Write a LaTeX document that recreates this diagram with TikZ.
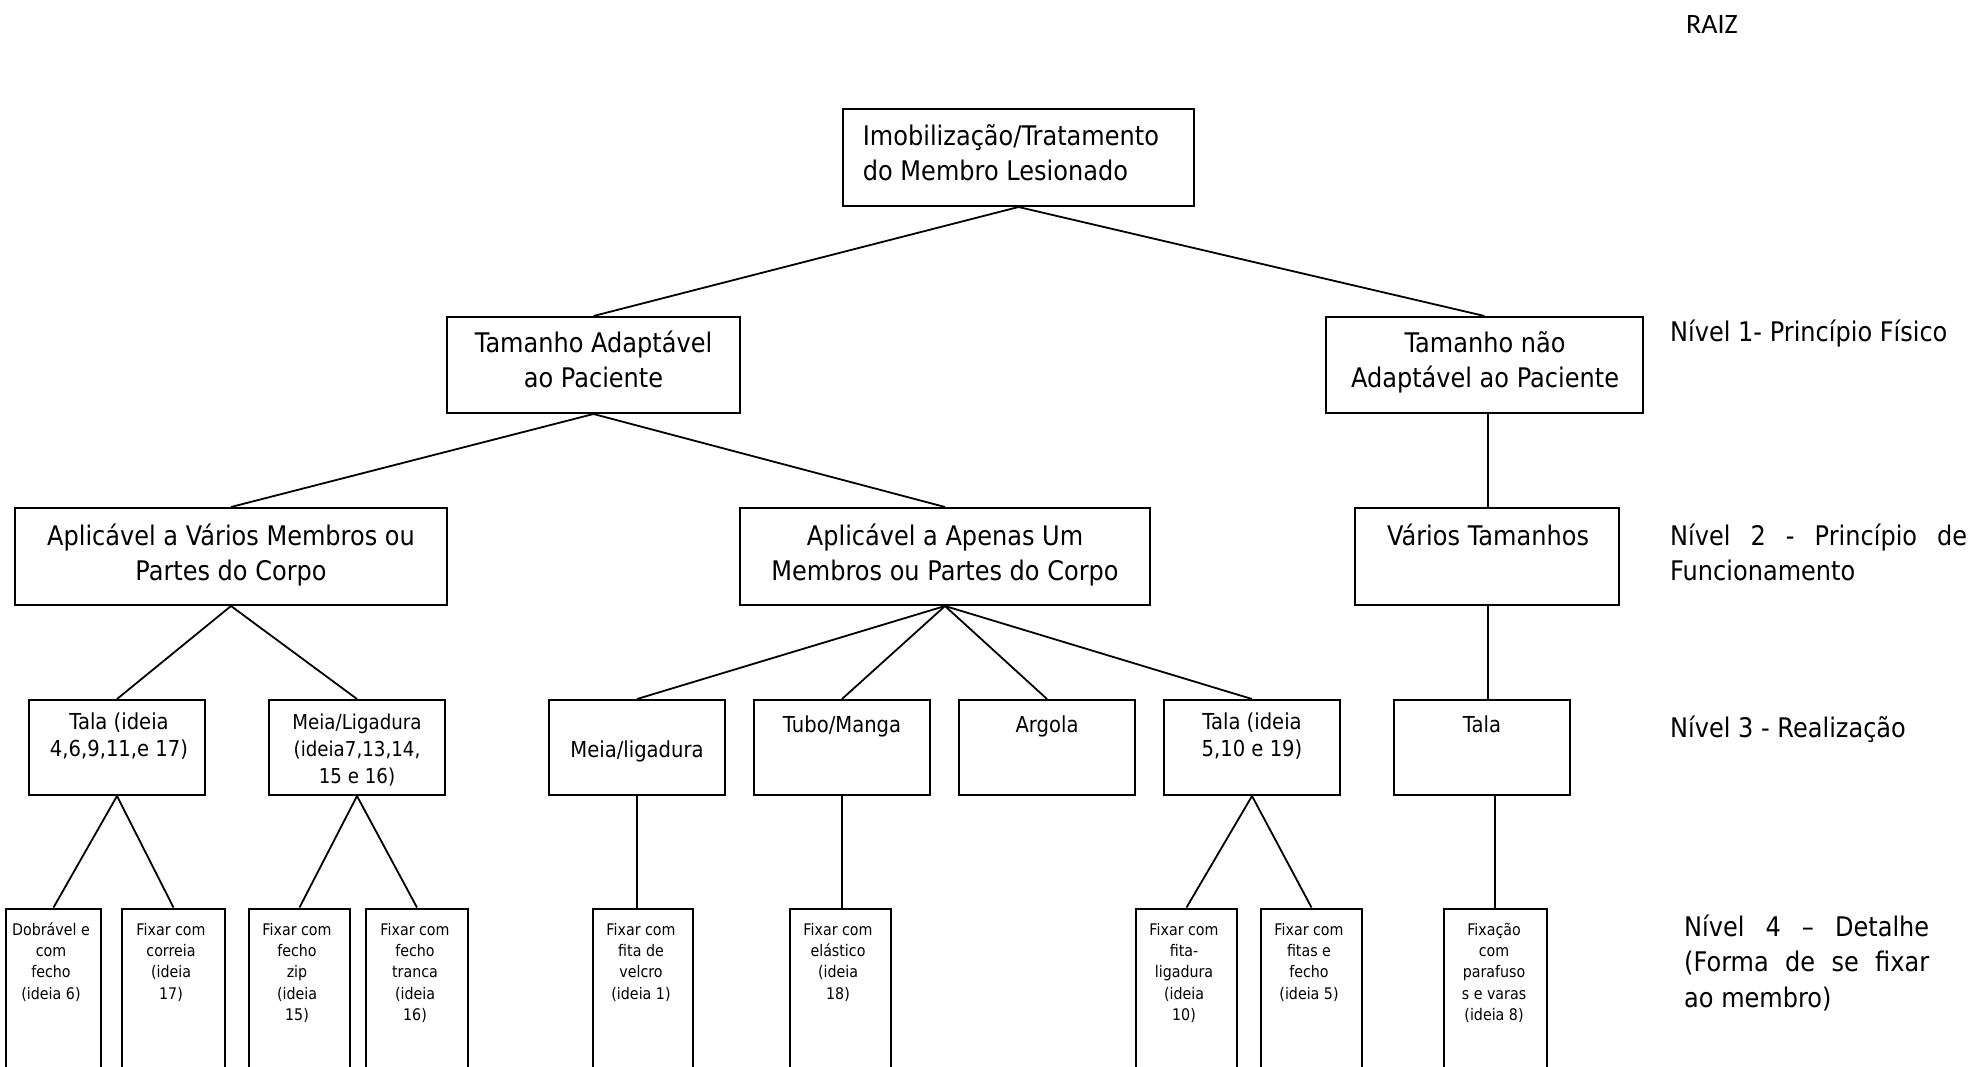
\documentclass[tikz,border=0pt]{standalone}
\usepackage{fontspec}
\setmainfont{DejaVu Sans}[FakeStretch=0.89]
\newfontfamily\raizfont{Carlito}
\begin{document}
% note: for multi-line nodes, anchor=base sits on the last line's baseline
\begin{tikzpicture}[x=1pt,y=-1pt,
  box/.style={draw, line width=2pt, inner sep=0pt, minimum height=#1},
  box/.default=97,
  link/.style={line width=1.8pt},
  big/.style={inner sep=0pt, align=center, font=\fontsize{27}{35}\selectfont},
  mid/.style={inner sep=0pt, align=center, font=\fontsize{22}{27.5}\selectfont},
  midsmall/.style={inner sep=0pt, align=center, font=\fontsize{20.5}{27}\selectfont},
  tiny/.style={inner sep=0pt, align=center, font=\fontsize{16}{21.4}\selectfont},
  side/.style={inner sep=0pt, anchor=base west, font=\fontsize{27}{35}\selectfont}]
\useasboundingbox (0,0) rectangle (1973,1066);

% root
\node[box, minimum width=351] (R) at (1018.5,157.5) {};
\node[big, align=left, anchor=base west] (Rt) at (862.7,180) {Imobilização/Tratamento\\do Membro Lesionado};

% level 1
\node[box=96, minimum width=293] (A) at (593.5,365) {};
\node[big, anchor=base] (At) at (593.5,387.7) {Tamanho Adaptável\\ao Paciente};
\node[box=96, minimum width=317] (B) at (1484.5,365) {};
\node[big, anchor=base] (Bt) at (1485,387.7) {Tamanho não\\Adaptável ao Paciente};

% level 2
\node[box, minimum width=432] (C) at (231,556.5) {};
\node[big, anchor=base] (Ct) at (231,580.2) {Aplicável a Vários Membros ou\\Partes do Corpo};
\node[box, minimum width=410] (D) at (945,556.5) {};
\node[big, anchor=base] (Dt) at (945,580.2) {Aplicável a Apenas Um\\Membros ou Partes do Corpo};
\node[box, minimum width=264] (E) at (1487,556.5) {};
\node[big, anchor=base] (Et) at (1488,545.2) {Vários Tamanhos};

% level 3
\foreach \n/\x in {1/117,2/357,3/637,4/842,5/1047,6/1252,7/1482}
  \node[box=95, minimum width=176] (n\n) at (\x,747.5) {};
\node[mid, anchor=base] (n1t) at (119,756.5) {Tala (ideia\\4,6,9,11,e 17)};
\node[midsmall, anchor=base] (n2t) at (357,783) {Meia/Ligadura\\(ideia7,13,14,\\15 e 16)};
\node[mid, anchor=base] (n3t) at (637,757) {Meia/ligadura};
\node[mid, anchor=base] (n4t) at (842,732) {Tubo/Manga};
\node[mid, anchor=base] (n5t) at (1047,732) {Argola};
\node[mid, anchor=base] (n6t) at (1252,756.5) {Tala (ideia\\5,10 e 19)};
\node[mid, anchor=base] (n7t) at (1482,732) {Tala};

% level 4 (boxes run past the lower edge)
\foreach \n/\x/\w in {1/53.5/95,2/173.5/103,3/299.5/101,4/417/102,5/643/100,6/840.5/101,7/1186.5/101,8/1311.5/101,9/1495/103}
  \node[box=171.5, minimum width=\w] (f\n) at (\x,994.25) {};
\node[tiny, anchor=base] (f1t) at (51,999.2) {Dobrável e\\com\\fecho\\(ideia 6)};
\node[tiny, anchor=base] (f2t) at (171,999.2) {Fixar com\\correia\\(ideia\\17)};
\node[tiny, anchor=base] (f3t) at (297,1020.6) {Fixar com\\fecho\\zip\\(ideia\\15)};
\node[tiny, anchor=base] (f4t) at (415,1020.6) {Fixar com\\fecho\\tranca\\(ideia\\16)};
\node[tiny, anchor=base] (f5t) at (641,999.2) {Fixar com\\fita de\\velcro\\(ideia 1)};
\node[tiny, anchor=base] (f6t) at (838,999.2) {Fixar com\\elástico\\(ideia\\18)};
\node[tiny, anchor=base] (f7t) at (1184,1020.6) {Fixar com\\fita-\\ligadura\\(ideia\\10)};
\node[tiny, anchor=base] (f8t) at (1309,999.2) {Fixar com\\fitas e\\fecho\\(ideia 5)};
\node[tiny, anchor=base] (f9t) at (1494,1020.6) {Fixação\\com\\parafuso\\s e varas\\(ideia 8)};

% vertical drop shared by the right-hand column
\coordinate (vx) at (1488,0);

% connectors
\draw[link] (R.south) -- (A.north);
\draw[link] (R.south) -- (B.north);
\draw[link] (A.south) -- (C.north);
\draw[link] (A.south) -- (D.north);
\draw[link] (vx |- B.south) -- (vx |- E.north);
\draw[link] (C.south) -- (n1.north);
\draw[link] (C.south) -- (n2.north);
\foreach \n in {3,4,5,6} \draw[link] (D.south) -- (n\n.north);
\draw[link] (vx |- E.south) -- (vx |- n7.north);
\draw[link] (n1.south) -- (f1.north);
\draw[link] (n1.south) -- (f2.north);
\draw[link] (n2.south) -- (f3.north);
\draw[link] (n2.south) -- (f4.north);
\draw[link] (n3.south) -- (n3.south |- f5.north);
\draw[link] (n4.south) -- (n4.south |- f6.north);
\draw[link] (n6.south) -- (f7.north);
\draw[link] (n6.south) -- (f8.north);
\draw[link] (f9.north |- n7.south) -- (f9.north);

% level captions
\node[inner sep=0pt, anchor=base west, font=\raizfont\fontsize{28}{34}\selectfont] (raiz) at (1686,33) {RAIZ};
\node[side] (lv1) at (1670,341) {Nível 1- Princípio Físico};
\node[side] (lv2a) at (1670,545) {\makebox[297pt][s]{Nível 2 - Princípio de}};
\node[side] (lv2b) at (1670,580) {Funcionamento};
\node[side] (lv3) at (1670,737) {Nível 3 - Realização};
\node[side] (lv4a) at (1684,936) {\makebox[245pt][s]{Nível 4 – Detalhe}};
\node[side] (lv4b) at (1684,971) {\makebox[245pt][s]{(Forma de se fixar}};
\node[side] (lv4c) at (1684,1007) {ao membro)};
\end{tikzpicture}
\end{document}
